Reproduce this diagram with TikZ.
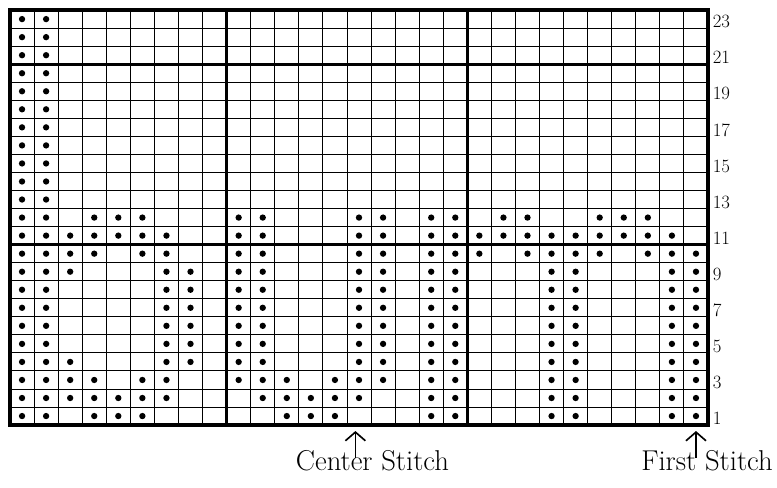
\documentclass[tikz,border=0pt]{standalone}
\usepackage{tikz}
\usetikzlibrary{arrows.meta}
\tikzstyle{cell} = [line width=0.8pt, black]
\tikzstyle{block} = [line width=2.4pt, black]
\tikzstyle{frame} = [line width=2.8pt, black]
\tikzstyle{rowlabel} = [anchor=west, inner sep=0pt, font=\fontsize{16}{18}\selectfont]
\tikzstyle{caption} = [anchor=base, inner sep=0pt, font=\fontsize{24.5}{28}\selectfont]
\tikzstyle{arrow} = [line width=1.4pt, -{Straight Barb[length=2.6mm, width=6mm]}]
\newcommand{\purl}[2]{\fill (#1-0.5,#2-0.5) circle (0.095cm);}

\begin{document}
\begin{tikzpicture}[x=0.7221cm, y=0.5413cm]
	\useasboundingbox (-0.4155,-3.4368) rectangle (31.866,23.559);
	% chart grid
	\foreach \c in {1,...,28} \draw[cell] (\c,0) -- (\c,23);
	\foreach \r in {1,...,22} \draw[cell] (0,\r) -- (29,\r);
	\draw[block] (9,0) -- (9,23) (19,0) -- (19,23);
	\draw[block] (0,10) -- (29,10) (0,20) -- (29,20);
	\draw[frame] (0,0) rectangle (29,23);
	% purl stitches, row by row
	\foreach \r/\cols in {
		1/{1,2,4,5,6,12,13,14,18,19,23,24,28,29},
		2/{1,2,3,4,5,6,7,11,12,13,14,15,18,19,23,24,28,29},
		3/{1,2,3,4,6,7,10,11,12,14,15,16,18,19,23,24,28,29},
		4/{1,2,3,7,8,10,11,15,16,18,19,23,24,28,29},
		5/{1,2,7,8,10,11,15,16,18,19,23,24,28,29},
		6/{1,2,7,8,10,11,15,16,18,19,23,24,28,29},
		7/{1,2,7,8,10,11,15,16,18,19,23,24,28,29},
		8/{1,2,7,8,10,11,15,16,18,19,23,24,28,29},
		9/{1,2,3,7,8,10,11,15,16,18,19,23,24,28,29},
		10/{1,2,3,4,6,7,10,11,15,16,18,19,20,22,23,24,25,27,28,29},
		11/{1,2,3,4,5,6,7,10,11,15,16,18,19,20,21,22,23,24,25,26,27,28},
		12/{1,2,4,5,6,10,11,15,16,18,19,21,22,25,26,27}}
		{\foreach \c in \cols {\purl{\c}{\r}}}
	\foreach \r in {13,...,23} {\purl{1}{\r} \purl{2}{\r}}
	% row numbers
	\foreach \r in {1,3,...,23}
		\node[rowlabel] (row\r) at (29.19,\r-0.64) {\r};
	% stitch markers
	\node[caption] (center) at (15.06,-2.494) {Center Stitch};
	\node[caption, anchor=base east] (first) at (31.70,-2.494) {First Stitch};
	\coordinate (chead) at (14.35,-0.33);
	\coordinate (ctail) at (14.35,-1.83);
	\coordinate (fhead) at (28.5,-0.33);
	\coordinate (ftail) at (28.5,-1.83);
	\draw[arrow] (ctail) -- (chead);
	\draw[arrow] (ftail) -- (fhead);
\end{tikzpicture}
\end{document}
